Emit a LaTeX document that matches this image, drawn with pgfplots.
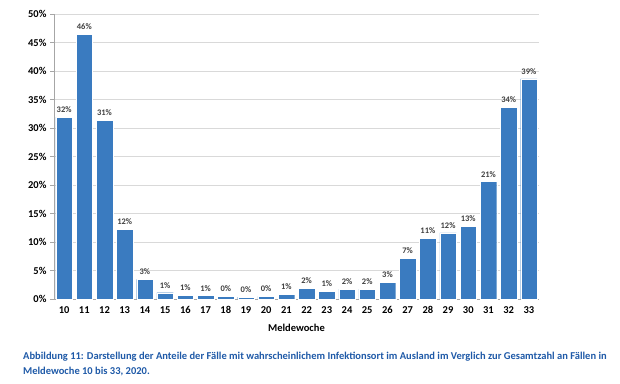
\documentclass[border=0pt]{standalone}
\usepackage{pgfplots}
\pgfplotsset{compat=1.18}
\usepackage{fontspec}
\setmainfont{Carlito}
\definecolor{barblue}{HTML}{3A7BC0}
\definecolor{capblue}{HTML}{1F5AA8}
\definecolor{gridgray}{HTML}{D9D9D9}
\definecolor{axisgray}{HTML}{A6A6A6}
\definecolor{labgray}{HTML}{404040}
\begin{document}
\begin{tikzpicture}[x=1pt,y=1pt]
\useasboundingbox[fill=white] (0,0) rectangle (620,383);
\begin{axis}[
  at={(54pt,84pt)}, anchor=south west,
  scale only axis, width=485pt, height=285pt,
  ybar, bar width=16.5pt,
  xmin=9.5, xmax=33.5, ymin=0, ymax=50,
  xtick={10,...,33}, xtick style={draw=none},
  extra x ticks={9.5,10.5,...,33.5}, extra x tick labels={},
  extra x tick style={major tick length=5pt, tick style={draw=axisgray}, grid=none, tick align=outside},
  ytick={0,5,...,50},
  yticklabel={\pgfmathprintnumber{\tick}\%},
  /pgf/number format/assume math mode=true,
  ymajorgrids, grid style={gridgray, line width=0.8pt},
  ytick style={draw=axisgray}, major tick length=4pt, tick align=outside,
  axis x line*=bottom, axis y line*=left,
  axis line style={axisgray, line width=0.8pt},
  x axis line style={-}, y axis line style={-},
  tick label style={font=\fontsize{10.5}{12}\selectfont\bfseries, text=black},
  xlabel={\fontsize{10.5}{12}\selectfont\bfseries Meldewoche},
  xlabel style={yshift=6pt},
  nodes near coords={\pgfmathprintnumber[fixed,precision=0]{\pgfplotspointmeta}\%},
  nodes near coords style={font=\fontsize{8.5}{10}\selectfont\bfseries, text=labgray, /pgf/number format/assume math mode=true, yshift=1pt},
  clip=false,
]
\addplot[fill=barblue, draw=white, line width=0.3pt] coordinates {
(10,31.9) (11,46.4) (12,31.4) (13,12.2) (14,3.45) (15,1.1) (16,0.7) (17,0.6)
(18,0.47) (19,0.35) (20,0.45) (21,0.8) (22,1.9) (23,1.35) (24,1.75) (25,1.75)
(26,2.9) (27,7.1) (28,10.7) (29,11.6) (30,12.75) (31,20.6) (32,33.6) (33,38.6)
};
\end{axis}
\node[anchor=north west, inner sep=0pt, align=left,
  font=\fontsize{10.5}{15}\selectfont\bfseries, text=capblue] at (23,31.5)
  {Abbildung 11: Darstellung der Anteile der Fälle mit wahrscheinlichem Infektionsort im Ausland im Verglich zur Gesamtzahl an Fällen in\\Meldewoche 10 bis 33, 2020.};
\end{tikzpicture}
\end{document}
